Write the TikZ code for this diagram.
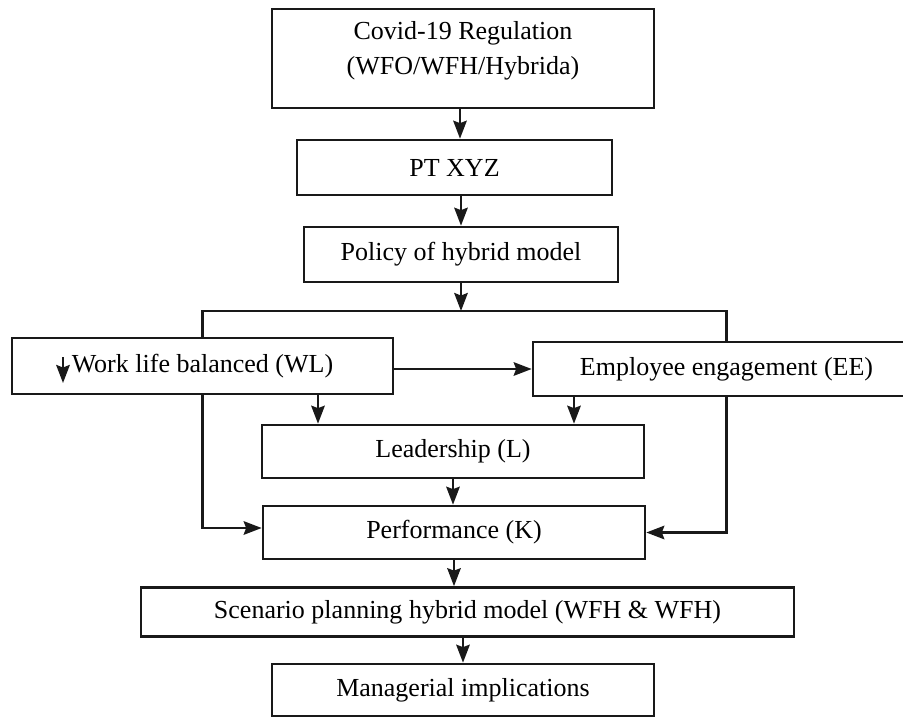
\documentclass[tikz,border=0pt]{standalone}
\usepackage{fontspec}
\setmainfont{Liberation Serif}
\usepackage{tikz}
\usetikzlibrary{arrows.meta, positioning, calc}

\begin{document}
\begin{tikzpicture}[x=1cm, y=1cm,
    font=\fontsize{14.8pt}{20pt}\selectfont,
    boite/.style={draw=black!90, line width=1.5pt, rectangle, inner sep=0pt},
    fleche/.style={draw=black!90, line width=1.4pt,
                   -{Stealth[length=0.36cm, width=0.27cm, inset=0.05cm]}},
    trait/.style={draw=black!90, line width=1.4pt}]

  \useasboundingbox (0,0) rectangle (18.06,-14.34);

  % ── Blocs du haut ──
  \node[boite, minimum width=7.64cm, minimum height=1.98cm] (covid) at (9.26,-1.17) {};
  \node[align=center] (covidtxt) at ([yshift=0.16cm]covid.center)
    {Covid-19 Regulation\\(WFO/WFH/Hybrida)};
  \node[boite, minimum width=6.30cm, minimum height=1.10cm] (ptxyz) at (9.09,-3.35) {PT XYZ};
  \node[boite, minimum width=6.28cm, minimum height=1.10cm] (policy) at (9.22,-5.09) {Policy of hybrid model};
  \coordinate (split) at (9.22,-6.22);

  % ── Variables ──
  \node[boite, minimum width=7.62cm, minimum height=1.12cm] (wl) at (4.05,-7.32) {Work life balanced (WL)};
  \node[boite, minimum width=7.74cm, minimum height=1.08cm] (ee) at (14.53,-7.38) {Employee engagement (EE)};
  \node[boite, minimum width=7.64cm, minimum height=1.06cm] (leader) at (9.06,-9.03) {Leadership (L)};
  \node[boite, minimum width=7.64cm, minimum height=1.06cm] (perf) at (9.08,-10.65) {Performance (K)};

  % ── Blocs du bas ──
  \node[boite, minimum width=13.06cm, minimum height=0.98cm] (scen) at (9.35,-12.24)
    {Scenario planning hybrid model (WFH \& WFH)};
  \node[boite, minimum width=7.64cm, minimum height=1.04cm] (manag) at (9.26,-13.80) {Managerial implications};

  % ── Liaisons ──
  \draw[fleche] ([xshift=-0.06cm]covid.south) -- ([xshift=-0.06cm]covid.south |- ptxyz.north);
  \draw[fleche] (policy |- ptxyz.south) -- (policy.north);
  \draw[fleche] (policy.south) -- (split);
  \draw[trait] (wl.north) |- (split) -| (ee.north);
  \draw[fleche] (wl.east |- ee.west) -- (ee.west);
  \draw[fleche] ([xshift=2.31cm]wl.south) -- ([xshift=2.31cm]wl.south |- leader.north);
  \draw[fleche] ([xshift=-3.05cm]ee.south) -- ([xshift=-3.05cm]ee.south |- leader.north);
  \draw[fleche] (leader.south) -- (leader.south |- perf.north);
  \draw[fleche] (wl.south) |- ([yshift=0.09cm]perf.west);
  \draw[fleche] (ee.south) |- (perf.east);
  \draw[fleche] (perf.south) -- (perf.south |- scen.north);
  \draw[fleche] (manag |- scen.south) -- (manag.north);

  % ── Petite flèche dans WL ──
  \coordinate (wlmark) at ([xshift=-2.79cm, yshift=0.18cm]wl.center);
  \draw[fleche] (wlmark) -- ++(0,-0.52);

\end{tikzpicture}
\end{document}
